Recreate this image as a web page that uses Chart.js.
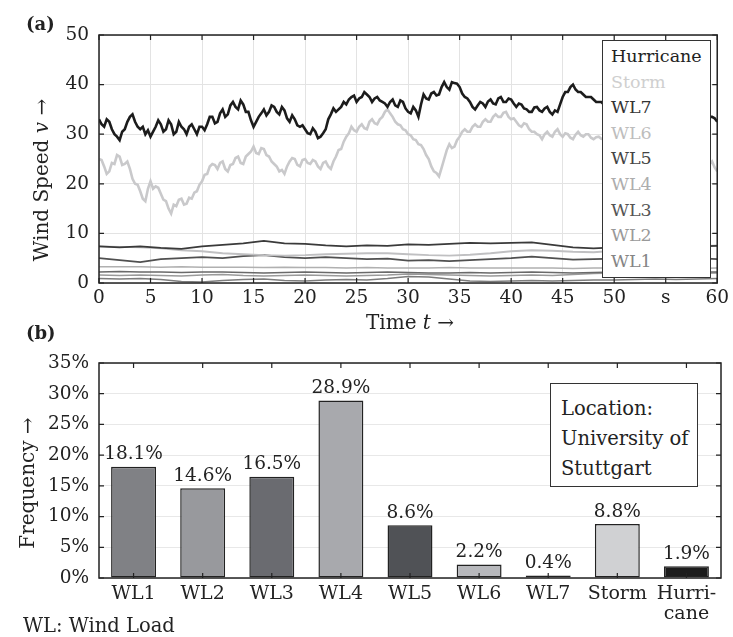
<!DOCTYPE html>
<html>
<head>
<meta charset="utf-8">
<script src="https://cdn.jsdelivr.net/npm/chart.js@4.4.1/dist/chart.umd.min.js"></script>
<style>
body { margin:0; background:#fff; font-family:'DejaVu Serif', serif; color:#222; }
#page { position:relative; width:733px; height:637px; overflow:hidden; }
.abs { position:absolute; }
#wrapA { left:0; top:0; width:733px; height:330px; }
#wrapB { left:0; top:330px; width:733px; height:307px; }
.tag { font-weight:bold; font-size:18px; }
.ttl { font-size:20px; white-space:nowrap; text-align:center; line-height:24px; }
#legendA { left:602px; top:40px; width:99px; height:233px; border:1.5px solid #333; background:#fff; padding:3px 0 0 8px; font-size:17.5px; line-height:25.6px; }
#loc { left:550px; top:383px; width:136px; height:92px; border:1.5px solid #333; background:#fff; padding:10px 0 0 10px; font-size:19.5px; line-height:30px; }
</style>
</head>
<body>
<div id="page">
  <div class="abs" id="wrapA"><canvas id="chartA"></canvas></div>
  <div class="abs" id="wrapB"><canvas id="chartB"></canvas></div>
  <div class="abs tag" style="left:26px;top:13px;">(a)</div>
  <div class="abs tag" style="left:26px;top:322px;">(b)</div>
  <div class="abs ttl" style="left:-84px;top:168px;width:250px;transform:rotate(-90deg);">Wind Speed <i>v</i> →</div>
  <div class="abs ttl" style="left:310px;top:310px;width:200px;">Time <i>t</i> →</div>
  <div class="abs ttl" style="left:-98px;top:471px;width:250px;transform:rotate(-90deg);">Frequency →</div>
  <div class="abs" style="left:23px;top:614px;font-size:19.5px;">WL: Wind Load</div>
  <div class="abs" id="legendA"></div>
  <div class="abs" id="loc">Location:<br>University of<br>Stuttgart</div>
</div>
<script>
// (a) wind speed, gust series read every 0.25 s
const hurricane = [
  33, 32, 31.5, 33, 32.5, 31, 30, 29.5, 28.8, 30.5, 31, 32.5, 33.5, 34, 32.5, 31.5, 31, 31.5, 30, 30.8,
  29.5, 30.5, 31.5, 32.8, 32, 30.5, 31, 32.8, 32, 30, 30.5, 32.5, 31.5, 31, 30, 31.5, 32, 31, 30, 31.5,
  31.5, 30.8, 32, 33.5, 33.5, 32.2, 32.5, 34.2, 35, 33.5, 34, 35.8, 36.5, 35.5, 35, 36.8, 36, 34.5, 34.5, 32.8,
  31.5, 32.5, 33.5, 34.2, 35, 33.8, 34.5, 35.8, 35.5, 34.5, 34, 35.5, 34.8, 33.2, 32.5, 33.8, 33, 31.8, 31.5, 31.8,
  31, 30.2, 30, 31.2, 30.5, 29.2, 29.5, 30.2, 31, 33, 34, 35.2, 34.5, 35, 35.5, 36.5, 36, 37, 37.5, 37.8,
  36.5, 37.2, 37.5, 38.5, 38, 37.5, 36.5, 37.2, 37.5, 36.8, 36.5, 36.2, 35.5, 36.5, 37, 35.8, 35.5, 36.8, 36.5, 35.2,
  34.5, 34.2, 35.5, 34.8, 33.5, 36, 38, 37.2, 37, 38.2, 38.5, 37.8, 38, 39.5, 40.5, 39.5, 39, 40.5, 40.3, 40.2,
  39.5, 38.2, 37.5, 37.2, 36.5, 35.5, 35, 35.8, 36.5, 36.2, 35.5, 36.6, 37, 36.2, 36, 37.2, 37.5, 36.5, 36.5, 37.2,
  37, 36.2, 35.5, 36.2, 36, 35.2, 35, 34.5, 34.5, 35.4, 35.5, 34.8, 34.5, 35.2, 35.5, 34.5, 34, 34.8, 34.5, 36,
  37.5, 38.5, 38.5, 39.5, 40, 39, 38.5, 38.5, 38, 37.5, 37.5, 37.5, 37, 36.5, 36.5, 36.5, 36, 36.8, 37, 36.5,
  36.5, 36.2, 35.5, 35.8, 36, 35.2, 35, 35.4, 35.5, 35, 34.5, 34.9, 35, 34.2, 34, 34.5, 34.5, 33.8, 33.5, 33.8,
  34, 33.2, 33, 33.5, 33.5, 33, 33, 33.6, 34, 33.4, 33, 33.4, 33.5, 33.9, 34, 33.4, 33, 33.5, 33.5, 33.2,
  32.5
];
const storm = [
  25, 24.8, 23.5, 22, 22.5, 24.2, 24, 25.8, 25.5, 23.8, 24, 24.5, 23, 21, 20, 19.8, 18.5, 17, 16.5, 19,
  20.5, 19, 19.5, 19.2, 18, 16.8, 16.5, 15, 14, 15.8, 15.5, 16.8, 17, 15.8, 16, 17.2, 17, 18.2, 18.5, 19.8,
  20.5, 21.8, 22, 23.5, 24, 23.8, 23, 24.2, 24.5, 23, 22.5, 23.8, 24, 25.2, 25.5, 24.2, 24, 25.5, 26, 26.5,
  27.5, 26.2, 26, 27.2, 27, 25.8, 25.5, 24.5, 24, 23.5, 22.5, 22.8, 22, 23.5, 24.5, 25.2, 25, 23.8, 23.5, 24.8,
  25, 24.2, 24, 24.8, 24.5, 23.5, 23, 24.2, 24.5, 23.5, 23, 24.5, 25.5, 26.8, 27, 28.5, 29.5, 30.2, 31.5, 30.8,
  30.5, 31.5, 32, 31.2, 31, 32.5, 33, 32.2, 32, 33, 33.5, 34.5, 35, 34.2, 33.5, 32.5, 32, 31.8, 31, 30.8,
  30, 29.8, 29, 28.8, 28, 27.8, 27, 25.8, 25, 23.5, 22.5, 22.2, 21.5, 23.2, 25, 26.8, 28, 27.2, 27.5, 28.8,
  29.5, 30.5, 31, 30.5, 30.5, 31.5, 32, 31.5, 31.5, 32.5, 33, 32.5, 32.5, 33.5, 34, 33.5, 33.5, 34.3, 34.5, 33.5,
  33, 33.2, 32.5, 31.8, 31.5, 32.2, 32, 31, 30.5, 30.5, 30, 29.8, 29, 30, 30.5, 29.8, 29.5, 30.5, 31, 30,
  29.5, 30.2, 30, 29.3, 29, 29.9, 30.5, 29.8, 29.5, 30, 30, 29.3, 29, 29.4, 29.5, 29.1, 29, 29.6, 30, 29.5,
  29.5, 28.8, 28.5, 29, 29, 28.3, 28, 28.4, 28.5, 27.8, 27.5, 27.9, 28, 27.3, 27, 27.4, 27.5, 26.8, 26.5, 26.9,
  27, 26.3, 26, 26.4, 26.5, 25.8, 25.5, 25.9, 26, 25.4, 25, 24.6, 24.5, 25.2, 25, 23.8, 23, 23.9, 24.5, 23.3,
  22.5
];
// wind load classes, read every 2 s
const wl7 = [7.4, 7.2, 7.4, 7.1, 6.9, 7.4, 7.7, 8.0, 8.5, 8.0, 7.9, 7.6, 7.4, 7.6, 7.5, 7.8, 7.7, 7.9, 8.1, 8.0, 8.1, 8.2, 7.7, 7.2, 7.0, 7.2, 7.4, 7.3, 7.2, 7.4, 7.5];
const wl6 = [7.4, 7.3, 7.2, 7.0, 6.6, 6.4, 6.0, 5.8, 5.6, 5.5, 5.6, 5.8, 5.9, 6.0, 6.0, 5.8, 5.6, 5.5, 5.7, 6.0, 6.4, 6.6, 6.5, 6.3, 6.2, 6.5, 6.8, 7.0, 7.2, 7.4, 7.6];
const wl5 = [5.0, 4.6, 4.2, 4.8, 5.0, 5.2, 5.0, 5.4, 5.6, 5.2, 5.0, 5.2, 5.0, 4.8, 4.9, 4.5, 4.6, 4.4, 4.6, 4.8, 5.0, 5.3, 5.0, 4.7, 4.8, 4.9, 5.0, 4.8, 4.9, 5.0, 4.8];
const wl4 = [3.3, 3.3, 3.3, 3.2, 3.3, 3.2, 3.2, 3.2, 3.1, 3.2, 3.1, 3.1, 3.0, 3.1, 3.0, 3.0, 3.0, 3.1, 3.0, 3.0, 3.0, 3.0, 3.0, 2.9, 3.0, 3.0, 2.9, 3.0, 3.0, 2.9, 3.0];
const wl3 = [2.2, 2.3, 2.2, 2.2, 2.1, 2.2, 2.2, 2.1, 2.0, 2.1, 2.2, 2.1, 2.0, 2.1, 2.2, 2.1, 2.0, 2.0, 2.1, 2.0, 2.1, 2.2, 2.1, 2.0, 2.1, 2.2, 2.1, 2.0, 2.1, 2.2, 2.2];
const wl2 = [1.6, 1.5, 1.6, 1.5, 1.4, 1.6, 1.7, 1.5, 1.4, 1.5, 1.6, 1.5, 1.4, 1.5, 1.6, 1.8, 1.7, 1.6, 1.5, 1.4, 1.5, 1.6, 1.5, 1.7, 1.9, 2.0, 1.9, 1.8, 1.8, 1.9, 2.0];
const wl1 = [0.9, 0.8, 0.9, 0.7, 0.3, 0.2, 0.5, 0.7, 0.8, 0.5, 0.4, 0.6, 0.7, 0.6, 0.9, 1.3, 1.2, 0.8, 0.4, 0.3, 0.4, 0.5, 0.4, 0.5, 0.6, 0.6, 0.7, 0.8, 0.7, 0.8, 0.9];

// (b) frequency of each class
const classes = ['WL1', 'WL2', 'WL3', 'WL4', 'WL5', 'WL6', 'WL7', 'Storm', ['Hurri-', 'cane']];
const frequency = [18.1, 14.6, 16.5, 28.9, 8.6, 2.2, 0.4, 8.8, 1.9];

const barColors = ['#808185', '#98999d', '#6a6b70', '#a8a9ad', '#505256', '#b7b8bc', '#262626', '#d0d1d3', '#1c1c1c'];

Chart.defaults.font.family = "'DejaVu Serif', serif";
Chart.defaults.color = '#222';

function toPoints(vals, step) {
  return vals.map((v, i) => ({ x: i * step, y: v }));
}

// box round the plot area plus small inward tick marks
const frame = {
  id: 'frame',
  afterDraw(chart) {
    const { ctx, chartArea: a, scales } = chart;
    const len = 5;
    ctx.save();
    ctx.strokeStyle = '#222';
    ctx.lineWidth = 1.2;
    ctx.beginPath();
    scales.x.ticks.forEach((t, i) => {
      const px = scales.x.getPixelForTick(i);
      ctx.moveTo(px, a.top); ctx.lineTo(px, a.top + len);
      ctx.moveTo(px, a.bottom); ctx.lineTo(px, a.bottom - len);
    });
    scales.y.ticks.forEach((t, i) => {
      const py = scales.y.getPixelForTick(i);
      ctx.moveTo(a.left, py); ctx.lineTo(a.left + len, py);
      ctx.moveTo(a.right, py); ctx.lineTo(a.right - len, py);
    });
    ctx.stroke();
    ctx.lineWidth = 1.5;
    ctx.strokeRect(a.left, a.top, a.right - a.left, a.bottom - a.top);
    ctx.restore();
  }
};

const barValues = {
  id: 'barValues',
  afterDatasetsDraw(chart) {
    const { ctx } = chart;
    const meta = chart.getDatasetMeta(0);
    ctx.save();
    ctx.font = "18.5px 'DejaVu Serif'";
    ctx.fillStyle = '#222';
    ctx.textAlign = 'center';
    ctx.textBaseline = 'bottom';
    meta.data.forEach((bar, i) => {
      ctx.fillText(frequency[i].toFixed(1) + '%', bar.x, bar.y - 3);
    });
    ctx.restore();
  }
};

const lineDefs = [
  { label: 'Hurricane', data: toPoints(hurricane, 0.25), color: '#1c1c1c', text: '#222', w: 2.6 },
  { label: 'Storm', data: toPoints(storm, 0.25), color: '#c9c9cb', text: '#cfcfcf', w: 2.6 },
  { label: 'WL7', data: toPoints(wl7, 2), color: '#3a3a3a', text: '#333', w: 1.8 },
  { label: 'WL6', data: toPoints(wl6, 2), color: '#c0c0c2', text: '#bdbdbd', w: 1.8 },
  { label: 'WL5', data: toPoints(wl5, 2), color: '#505050', text: '#444', w: 1.8 },
  { label: 'WL4', data: toPoints(wl4, 2), color: '#b0b0b0', text: '#adadad', w: 1.5 },
  { label: 'WL3', data: toPoints(wl3, 2), color: '#6a6a6a', text: '#555', w: 1.5 },
  { label: 'WL2', data: toPoints(wl2, 2), color: '#9a9a9a', text: '#999', w: 1.5 },
  { label: 'WL1', data: toPoints(wl1, 2), color: '#7c7c7c', text: '#858585', w: 1.5 }
];

const chartA = new Chart(document.getElementById('chartA'), {
  type: 'line',
  data: {
    datasets: lineDefs.map(d => ({
      label: d.label, data: d.data, borderColor: d.color, borderWidth: d.w,
      pointRadius: 0, tension: 0, fill: false
    }))
  },
  options: {
    responsive: true, maintainAspectRatio: false, animation: false,
    layout: { padding: { top: 35, right: 12, left: 0, bottom: 0 } },
    plugins: { legend: { display: false }, tooltip: { enabled: false } },
    scales: {
      x: {
        type: 'linear', min: 0, max: 60,
        ticks: { stepSize: 5, padding: 4, font: { size: 18.5 }, maxRotation: 0,
          callback: v => v === 55 ? 's' : v },
        grid: { color: '#e3e3e3', drawTicks: false },
        border: { display: false },
        afterFit: s => { s.height = 47; }
      },
      y: {
        min: 0, max: 50,
        ticks: { stepSize: 5, padding: 10, font: { size: 18.5 },
          callback: v => v === 45 ? 'm/s' : v },
        grid: { color: '#e3e3e3', drawTicks: false },
        border: { display: false },
        afterFit: s => { s.width = 99; }
      }
    }
  },
  plugins: [frame]
});

// legend box built from the datasets
const legendBox = document.getElementById('legendA');
chartA.data.datasets.forEach((ds, i) => {
  const row = document.createElement('div');
  row.textContent = ds.label;
  row.style.color = lineDefs[i].text;
  legendBox.appendChild(row);
});

new Chart(document.getElementById('chartB'), {
  type: 'bar',
  data: {
    labels: classes,
    datasets: [{
      data: frequency, backgroundColor: barColors, borderColor: '#222', borderWidth: 1.5,
      categoryPercentage: 1, barPercentage: 0.65, borderSkipped: false
    }]
  },
  options: {
    responsive: true, maintainAspectRatio: false, animation: false,
    layout: { padding: { top: 33, right: 12, left: 0, bottom: 0 } },
    plugins: { legend: { display: false }, tooltip: { enabled: false } },
    scales: {
      x: {
        ticks: { padding: 6, font: { size: 19, lineHeight: 1.05 }, maxRotation: 0, autoSkip: false },
        grid: { display: false, drawTicks: false },
        border: { display: false },
        afterFit: s => { s.height = 59; }
      },
      y: {
        min: 0, max: 35,
        ticks: { stepSize: 5, padding: 10, font: { size: 18.5 }, callback: v => v + '%' },
        grid: { color: '#e8e8e8', drawTicks: false },
        border: { display: false },
        afterFit: s => { s.width = 99; }
      }
    }
  },
  plugins: [barValues, frame]
});
</script>
</body>
</html>
